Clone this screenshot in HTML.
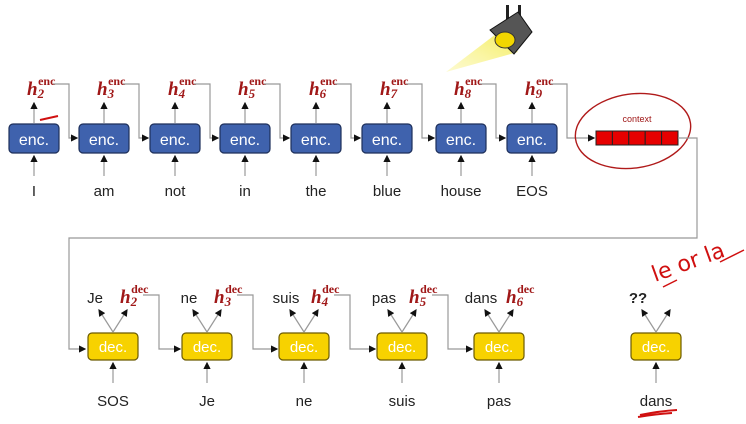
<!DOCTYPE html>
<html><head><meta charset="utf-8">
<style>
html,body{margin:0;padding:0;background:#fff;}
svg{display:block;font-family:"Liberation Sans","DejaVu Sans",sans-serif;}
.h{font-family:"Liberation Serif",serif;font-style:italic;font-weight:bold;fill:#a01818;}
</style></head>
<body>
<svg id="s" width="746" height="424" viewBox="0 0 746 424">
<defs>
<marker id="ar" markerWidth="6" markerHeight="6" refX="5" refY="3" orient="auto"><path d="M0,0 L6,3 L0,6z" fill="#111"/></marker>
<linearGradient id="beam" x1="1" y1="0" x2="0" y2="1"><stop offset="0" stop-color="#f5ee60"/><stop offset="1" stop-color="#fbf7b0" stop-opacity="0.6"/></linearGradient>
</defs>
<g>
<polygon points="496,34 518,52 446,72" fill="url(#beam)"/>
<rect x="506" y="5" width="3" height="16" fill="#222"/>
<rect x="518" y="5" width="3" height="16" fill="#222"/>
<polygon points="490,30 518,12 532,32 514,54" fill="#555" stroke="#111"/>
<ellipse cx="505" cy="40" rx="10" ry="8" fill="#f2d600" stroke="#333"/>
</g>
</svg>
<script>
const encWords=["I","am","not","in","the","blue","house","EOS"];
const encHidden=["2","3","4","5","6","7","8","9"];
const decInputs=["SOS","Je","ne","suis","pas","dans"];
const decOutputs=["Je","ne","suis","pas","dans","??"];
const decHidden=["2","3","4","5","6",""];
const encX=[34,104,175,245,316,387,461,532];
const decX=[113,207,304,402,499,656];
const NS="http://www.w3.org/2000/svg";
const s=document.getElementById('s');
function mk(t,a,p){const e=document.createElementNS(NS,t);for(const k in a)e.setAttribute(k,a[k]);(p||s).appendChild(e);return e;}
function line(x1,y1,x2,y2,arrow,col){const l=mk('line',{x1,y1,x2,y2,stroke:col||'#999','stroke-width':1.2});if(arrow)l.setAttribute('marker-end','url(#ar)');return l;}
encWords.forEach((w,i)=>{
 const cx=encX[i];
 const g=mk('g',{});
 
 
 mk('rect',{x:cx-25,y:124,width:50,height:29,rx:4,fill:'#3f62ad',stroke:'#1d2f5a','stroke-width':1.2},g);
 const t=mk('text',{x:cx,y:145,'text-anchor':'middle','font-size':16,fill:'#fff'},g);t.textContent='enc.';
 line(cx,176,cx,156,true);
 line(cx,123,cx,103,true);
 const wt=mk('text',{x:cx,y:196,'text-anchor':'middle','font-size':15,fill:'#222'});wt.textContent=w;
 
 
 const h=mk('text',{x:cx-7,y:95,'font-size':19,class:'h'});h.textContent='h';
 
 
 const sub=mk('tspan',{'font-size':13,dy:3},h);sub.textContent=encHidden[i];
 const sup=mk('tspan',{'font-size':12,dx:-6,dy:-13,'font-style':'normal'},h);sup.textContent='enc';
 const nx=i<encX.length-1?encX[i+1]-27:594;
 mk('polyline',{points:`${cx+19},84 ${cx+35},84 ${cx+35},138 ${nx},138`,fill:'none',stroke:'#999','stroke-width':1.2,'marker-end':'url(#ar)'});
});
const ctx=mk('g',{});


for(let k=0;k<5;k++)mk('rect',{x:596+k*16.4,y:131,width:16.4,height:14,fill:'#e60000',stroke:'#222','stroke-width':1},ctx);
const ct=mk('text',{x:637,y:122,'text-anchor':'middle','font-size':9,fill:'#a01818'},ctx);ct.textContent='context';
mk('ellipse',{cx:633,cy:131,rx:58,ry:37,fill:'none',stroke:'#b01a1a','stroke-width':1.4,transform:'rotate(-8 633 131)'});
mk('polyline',{points:`678,138 697,138 697,238 69,238 69,349 85,349`,fill:'none',stroke:'#999','stroke-width':1.2,'marker-end':'url(#ar)'});
decInputs.forEach((w,i)=>{
 const cx=decX[i];
 const g=mk('g',{});
 
 
 mk('rect',{x:cx-25,y:333,width:50,height:27,rx:4,fill:'#f7d200',stroke:'#6b5a00','stroke-width':1.2},g);
 const t=mk('text',{x:cx,y:352,'text-anchor':'middle','font-size':15,fill:'#fff'},g);t.textContent='dec.';
 line(cx,383,cx,363,true);
 line(cx,332,cx-14,310,true);
 line(cx,332,cx+14,310,true);
 const it=mk('text',{x:cx,y:406,'text-anchor':'middle','font-size':15,fill:'#222'});it.textContent=w;
 
 
 const ot=mk('text',{x:cx-18,y:303,'text-anchor':'middle','font-size':15,fill:'#222','font-weight':decOutputs[i]==='??'?'bold':'normal'});ot.textContent=decOutputs[i];
 
 
 if(decHidden[i]){
  const h=mk('text',{x:cx+7,y:303,'font-size':19,class:'h'});h.textContent='h';
  
  
  const sub=mk('tspan',{'font-size':13,dy:3},h);sub.textContent=decHidden[i];
  const sup=mk('tspan',{'font-size':12,dx:-6,dy:-13,'font-style':'normal'},h);sup.textContent='dec';
  if(i<4){const nx=decX[i+1]-27;
   mk('polyline',{points:`${cx+30},295 ${cx+46},295 ${cx+46},349 ${nx},349`,fill:'none',stroke:'#999','stroke-width':1.2,'marker-end':'url(#ar)'});}
 }
});
const hw=mk('text',{x:655,y:282,'font-size':22,fill:'#d01010','font-family':'"DejaVu Sans",sans-serif',transform:'rotate(-20 655 282)'});
hw.textContent='le  or  la';


mk('path',{d:'M663,287 L677,280 M720,262 L744,250',stroke:'#d01010','stroke-width':1.5,fill:'none'});
mk('path',{d:'M40,120 L58,116 M640,415 Q660,411 677,410 M638,417 Q656,414 672,413',stroke:'#d01010','stroke-width':2,fill:'none'});
</script>
</body></html>
